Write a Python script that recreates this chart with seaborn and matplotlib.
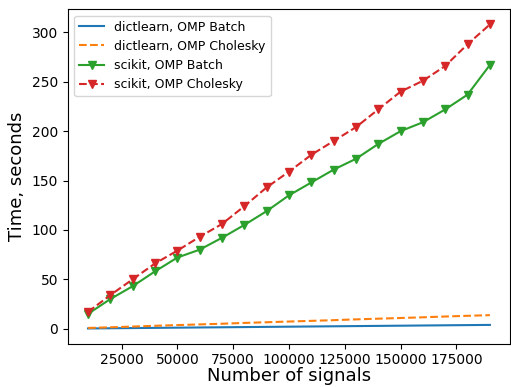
import matplotlib
matplotlib.use("Agg")
import matplotlib.pyplot as plt
import seaborn as sns

signals = [10000, 20000, 30000, 40000, 50000, 60000, 70000, 80000, 90000, 100000,
           110000, 120000, 130000, 140000, 150000, 160000, 170000, 180000, 190000]

dl_batch = [0.2, 0.4, 0.6, 0.8, 1.0, 1.2, 1.4, 1.6, 1.8, 2.0,
            2.2, 2.4, 2.6, 2.8, 3.0, 3.2, 3.4, 3.6, 3.8]
dl_cholesky = [0.7, 1.4, 2.1, 2.9, 3.6, 4.3, 5.0, 5.8, 6.5, 7.2,
               7.9, 8.6, 9.4, 10.1, 10.8, 11.5, 12.3, 13.0, 13.7]
sk_batch = [15, 30, 43, 58, 72, 80, 92, 105, 119, 135,
            148, 161, 172, 187, 200, 209, 222, 237, 267]
sk_cholesky = [17, 34, 50, 66, 79, 93, 106, 124, 143, 159,
               176, 190, 204, 222, 240, 251, 266, 288, 308]

fig, ax = plt.subplots(figsize=(5.11, 3.87), dpi=100)

sns.lineplot(x=signals, y=dl_batch, ax=ax, color="C0", label="dictlearn, OMP Batch")
sns.lineplot(x=signals, y=dl_cholesky, ax=ax, color="C1", linestyle="--",
             label="dictlearn, OMP Cholesky")
sns.lineplot(x=signals, y=sk_batch, ax=ax, color="C2", marker="v",
             markeredgecolor="C2", markeredgewidth=1, label="scikit, OMP Batch")
sns.lineplot(x=signals, y=sk_cholesky, ax=ax, color="C3", linestyle="--", marker="v",
             markeredgecolor="C3", markeredgewidth=1, label="scikit, OMP Cholesky")

ax.set_xlabel("Number of signals", fontsize=13, labelpad=0)
ax.set_ylabel("Time, seconds", fontsize=13)
ax.legend(loc="upper left", fontsize=9)

fig.subplots_adjust(left=0.133, right=0.998, top=0.976, bottom=0.112)
fig.savefig("out.png", dpi=100)
